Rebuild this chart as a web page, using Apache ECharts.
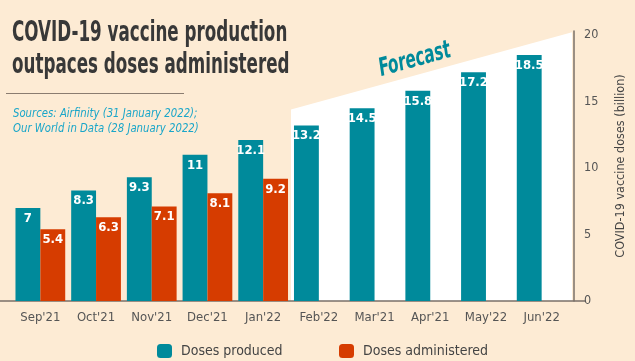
<!DOCTYPE html>
<html><head><meta charset="utf-8">
<script src="https://cdn.jsdelivr.net/npm/echarts@6/dist/echarts.min.js"></script>
<style>html,body{margin:0;padding:0;background:#fdebd4}#c{width:635px;height:361px}</style>
</head><body><div id="c"></div>
<script>
var categories = ["Sep'21","Oct'21","Nov'21","Dec'21","Jan'22","Feb'22","Mar'21","Apr'21","May'22","Jun'22"];
var producedValues = [7, 8.3, 9.3, 11, 12.1, 13.2, 14.5, 15.8, 17.2, 18.5];
var administeredValues = [5.4, 6.3, 7.1, 8.1, 9.2, null, null, null, null, null];
var forecastStart = "Feb'22";
var forecastEnd = "Jun'22";
var forecastTop = [14.4, 20.2];
var yTicks = [0, 5, 10, 15, 20];

var NARROW = "'Liberation Sans Narrow','DejaVu Sans Condensed','DejaVu Sans',sans-serif";
var TEAL = '#008a9b', RED = '#d63c00';
var chart = echarts.init(document.getElementById('c'));
chart.setOption({
  backgroundColor: '#fdebd4',
  animation: false,
  graphic: [{
    type: 'text', x: 12, y: 18, scaleX: 0.665,
    style: {text: 'COVID-19 vaccine production\noutpaces doses administered',
      fontFamily: NARROW, fontWeight: 'bold', fontSize: 28, lineHeight: 32, fill: '#383838',
      verticalAlign: 'top'}
  }, {
    type: 'text', x: 13, y: 106, scaleX: 0.9,
    style: {text: 'Sources: Airfinity (31 January 2022);\nOur World in Data (28 January 2022)',
      fontFamily: NARROW, fontStyle: 'italic', fontSize: 12.5, lineHeight: 15, fill: '#1aa6c9',
      verticalAlign: 'top'}
  }, {
    type: 'line', shape: {x1: 6, y1: 93.5, x2: 184, y2: 93.5},
    style: {stroke: '#8a7c70', lineWidth: 1}
  }],
  legend: [{
    left: 152, top: 339, itemWidth: 15, itemHeight: 14,
    data: ['Doses produced'],
    textStyle: {fontFamily: NARROW, fontSize: 14, color: '#444', padding: [0,0,0,4]}
  }, {
    left: 334, top: 339, itemWidth: 15, itemHeight: 14,
    data: ['Doses administered'],
    textStyle: {fontFamily: NARROW, fontSize: 14, color: '#444', padding: [0,0,0,4]}
  }],
  grid: [
    {left: 12.5, right: 62.5, top: 31, bottom: 60},
    {left: 0, right: 50, top: 31, bottom: 60}
  ],
  xAxis: [{
    type: 'category', data: categories, gridIndex: 0,
    axisLine: {show: false}, axisTick: {show: false},
    axisLabel: {fontFamily: NARROW, fontSize: 13, color: '#555', margin: 10}
  }, {
    type: 'value', gridIndex: 1, min: 0, max: 1,
    axisLine: {show: true, onZero: false, lineStyle: {color: '#7a7068', width: 1.5}},
    axisTick: {show: false}, axisLabel: {show: false}, splitLine: {show: false}
  }],
  yAxis: [{
    type: 'value', gridIndex: 0, position: 'right', offset: 4.5,
    min: 0, max: 20.3, interval: 5,
    axisLine: {show: true, lineStyle: {color: '#7a7068', width: 1.5}},
    axisTick: {show: false}, splitLine: {show: false},
    axisLabel: {fontFamily: NARROW, fontSize: 12.5, color: '#555', margin: 10,
      formatter: function (v) { return yTicks.indexOf(v) >= 0 ? String(v) : ''; }},
    name: 'COVID-19 vaccine doses (billion)', nameLocation: 'middle', nameRotate: 90, nameGap: 40,
    nameTextStyle: {fontFamily: NARROW, fontSize: 12.5, color: '#444'}
  }, {
    type: 'value', gridIndex: 1, show: false
  }],
  series: [{
    type: 'custom', xAxisIndex: 0, yAxisIndex: 0, z: 0, silent: true,
    data: [0],
    renderItem: function (params, api) {
      var bw = api.size([1, 0])[0];
      var p0 = api.coord([categories.indexOf(forecastStart), forecastTop[0]]);
      var p1 = api.coord([categories.indexOf(forecastEnd), forecastTop[1]]);
      var b0 = api.coord([categories.indexOf(forecastStart), 0]);
      var x0 = p0[0] - bw / 2, x1 = p1[0] + bw / 2 + 2.5;
      var ang = Math.atan2(p0[1] - p1[1], x1 - x0);
      var t = 0.455;
      var tx = x0 + (x1 - x0) * t, ty = p0[1] + (p1[1] - p0[1]) * t;
      return {type: 'group', children: [{
        type: 'polygon',
        shape: {points: [[x0, p0[1]], [x1, p1[1]], [x1, b0[1]], [x0, b0[1]]]},
        style: {fill: '#ffffff'}
      }, {
        type: 'text', x: tx, y: ty, rotation: ang, scaleX: 0.68,
        style: {text: 'Forecast', x: 0, y: -15, align: 'center', verticalAlign: 'middle',
          fill: TEAL, fontFamily: NARROW, fontWeight: 'bold', fontStyle: 'italic', fontSize: 25}
      }]};
    }
  }, {
    name: 'Doses produced', type: 'bar', data: producedValues, z: 2,
    barGap: '0%', barCategoryGap: '10.7%',
    itemStyle: {color: TEAL},
    label: {show: true, position: 'insideTop', distance: 4, color: '#fff',
      fontFamily: NARROW, fontWeight: 'bold', fontSize: 13}
  }, {
    name: 'Doses administered', type: 'bar', data: administeredValues, z: 2,
    itemStyle: {color: RED},
    label: {show: true, position: 'insideTop', distance: 4, color: '#fff',
      fontFamily: NARROW, fontWeight: 'bold', fontSize: 13}
  }]
});
</script></body></html>
